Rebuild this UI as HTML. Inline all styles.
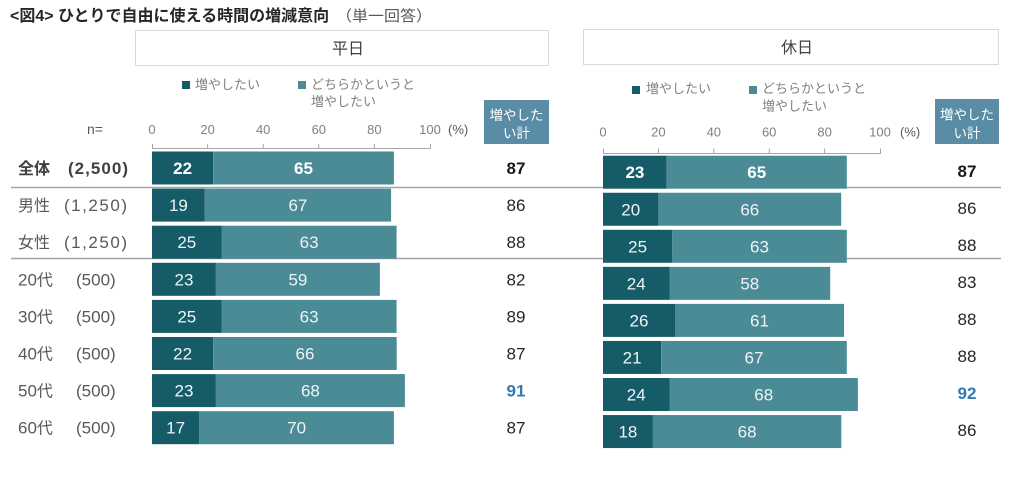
<!DOCTYPE html>
<html><head><meta charset="utf-8">
<style>
html,body{margin:0;padding:0;background:#fff;}
svg{display:block;font-family:"Liberation Sans","Noto Sans CJK JP",sans-serif;}
</style></head>
<body>
<svg width="1024" height="486" viewBox="0 0 1024 486" xmlns="http://www.w3.org/2000/svg">
<rect width="1024" height="486" fill="#fff"/>
<!-- Title -->
<text x="10" y="21" font-size="16" font-weight="bold" fill="#262626">&lt;図4&gt; ひとりで自由に使える時間の増減意向</text>
<text x="336" y="21" font-size="15" fill="#595959" textLength="96" lengthAdjust="spacingAndGlyphs">（単一回答）</text>

<!-- Panel boxes -->
<rect x="135.5" y="30.5" width="413" height="35" fill="#fff" stroke="#d9d9d9" stroke-width="1"/>
<text x="348" y="54" font-size="16" fill="#404040" text-anchor="middle">平日</text>
<rect x="583.5" y="29.5" width="415" height="35" fill="#fff" stroke="#d9d9d9" stroke-width="1"/>
<text x="797" y="53" font-size="16" fill="#404040" text-anchor="middle">休日</text>

<!-- Legends -->
<rect x="182" y="81" width="8" height="8" fill="#165c68"/>
<text x="195" y="89" font-size="13" fill="#808080">増やしたい</text>
<rect x="298" y="81" width="8" height="8" fill="#4a8b96"/>
<text x="311" y="89" font-size="13" fill="#808080">どちらかというと</text>
<text x="311" y="106" font-size="13" fill="#808080">増やしたい</text>

<rect x="632" y="86" width="8" height="8" fill="#165c68"/>
<text x="646" y="93" font-size="13" fill="#808080">増やしたい</text>
<rect x="749" y="86" width="8" height="8" fill="#4a8b96"/>
<text x="762" y="93" font-size="13" fill="#808080">どちらかというと</text>
<text x="762" y="110.5" font-size="13" fill="#808080">増やしたい</text>

<!-- Header boxes -->
<rect x="484" y="100" width="65" height="44" fill="#5a8da5"/>
<text x="516.5" y="120" font-size="13.5" fill="#fff" text-anchor="middle">増やした</text>
<text x="516.5" y="138" font-size="13.5" fill="#fff" text-anchor="middle">い計</text>
<rect x="935" y="99" width="64" height="45" fill="#5a8da5"/>
<text x="967" y="119.5" font-size="13.5" fill="#fff" text-anchor="middle">増やした</text>
<text x="967" y="138" font-size="13.5" fill="#fff" text-anchor="middle">い計</text>

<!-- Axis labels -->
<text x="87" y="134" font-size="14" fill="#595959">n=</text>
<g font-size="13" fill="#808080" text-anchor="middle">
<text x="152" y="134">0</text><text x="207.6" y="134">20</text><text x="263.2" y="134">40</text><text x="318.8" y="134">60</text><text x="374.4" y="134">80</text><text x="430" y="134">100</text>
<text x="603" y="136.5">0</text><text x="658.4" y="136.5">20</text><text x="713.8" y="136.5">40</text><text x="769.2" y="136.5">60</text><text x="824.6" y="136.5">80</text><text x="880" y="136.5">100</text>
</g>
<text x="448" y="134" font-size="13" fill="#595959">(%)</text>
<text x="900" y="136.5" font-size="13" fill="#595959">(%)</text>

<!-- Axis lines -->
<g stroke="#a6a6a6" stroke-width="1" fill="none">
<path d="M152.5 144V148.5H430.5V144 M207.6 144V148.5 M263.2 144V148.5 M318.8 144V148.5 M374.4 144V148.5"/>
<path d="M603.5 148.5V153.5H880.5V148.5 M658.4 148.5V153.5 M713.8 148.5V153.5 M769.2 148.5V153.5 M824.6 148.5V153.5"/>
</g>

<!-- Separator lines -->
<g stroke="#a6a6a6" stroke-width="1.5">
<line x1="11" y1="187.5" x2="1001" y2="187.5"/>
<line x1="11" y1="258.5" x2="1001" y2="258.5"/>
</g>

<!-- Row labels -->
<g font-size="17" fill="#595959">
<text x="18" y="174" font-size="16" font-weight="bold" fill="#404040">全体</text>
<text x="68" y="174" font-weight="bold" fill="#404040" textLength="60" lengthAdjust="spacing">(2,500)</text>
<text x="18" y="211" font-size="16">男性</text>
<text x="64" y="211" textLength="63" lengthAdjust="spacing">(1,250)</text>
<text x="18" y="248" font-size="16">女性</text>
<text x="64" y="248" textLength="63" lengthAdjust="spacing">(1,250)</text>
<text x="18" y="285.3">20<tspan font-size="16">代</tspan></text><text x="76" y="285.3">(500)</text>
<text x="18" y="322.4">30<tspan font-size="16">代</tspan></text><text x="76" y="322.4">(500)</text>
<text x="18" y="359.5">40<tspan font-size="16">代</tspan></text><text x="76" y="359.5">(500)</text>
<text x="18" y="396.6">50<tspan font-size="16">代</tspan></text><text x="76" y="396.6">(500)</text>
<text x="18" y="433.7">60<tspan font-size="16">代</tspan></text><text x="76" y="433.7">(500)</text>
</g>

<!-- Left bars -->
<g>
<rect x="152" y="151.5" width="61.2" height="33" fill="#165c68"/><rect x="213.2" y="151.5" width="180.7" height="33" fill="#4a8b96"/>
<rect x="152" y="188.6" width="52.8" height="33" fill="#165c68"/><rect x="204.8" y="188.6" width="186.3" height="33" fill="#4a8b96"/>
<rect x="152" y="225.7" width="69.5" height="33" fill="#165c68"/><rect x="221.5" y="225.7" width="175.1" height="33" fill="#4a8b96"/>
<rect x="152" y="262.8" width="63.9" height="33" fill="#165c68"/><rect x="215.9" y="262.8" width="164.0" height="33" fill="#4a8b96"/>
<rect x="152" y="299.9" width="69.5" height="33" fill="#165c68"/><rect x="221.5" y="299.9" width="175.1" height="33" fill="#4a8b96"/>
<rect x="152" y="337" width="61.2" height="33" fill="#165c68"/><rect x="213.2" y="337" width="183.5" height="33" fill="#4a8b96"/>
<rect x="152" y="374.1" width="63.9" height="33" fill="#165c68"/><rect x="215.9" y="374.1" width="189.0" height="33" fill="#4a8b96"/>
<rect x="152" y="411.2" width="47.3" height="33" fill="#165c68"/><rect x="199.3" y="411.2" width="194.6" height="33" fill="#4a8b96"/>
</g>
<g font-size="17" fill="#eef4f5" text-anchor="middle">
<text x="182.6" y="174" font-weight="bold" fill="#fff">22</text><text x="303.5" y="174" font-weight="bold" fill="#fff">65</text>
<text x="178.4" y="211.1">19</text><text x="297.9" y="211.1">67</text>
<text x="186.8" y="248.2">25</text><text x="309.1" y="248.2">63</text>
<text x="184.0" y="285.3">23</text><text x="297.9" y="285.3">59</text>
<text x="186.8" y="322.4">25</text><text x="309.1" y="322.4">63</text>
<text x="182.6" y="359.5">22</text><text x="305.0" y="359.5">66</text>
<text x="184.0" y="396.6">23</text><text x="310.4" y="396.6">68</text>
<text x="175.6" y="433.7">17</text><text x="296.6" y="433.7">70</text>
</g>
<g font-size="17" fill="#262626" text-anchor="middle">
<text x="516" y="174" font-weight="bold" fill="#1a1a1a">87</text>
<text x="516" y="211.1">86</text>
<text x="516" y="248.2">88</text>
<text x="516" y="285.3">82</text>
<text x="516" y="322.4">89</text>
<text x="516" y="359.5">87</text>
<text x="516" y="396.6" font-weight="bold" fill="#3478b0">91</text>
<text x="516" y="433.7">87</text>
</g>

<!-- Right bars -->
<g>
<rect x="603" y="155.7" width="63.7" height="33" fill="#165c68"/><rect x="666.7" y="155.7" width="180.1" height="33" fill="#4a8b96"/>
<rect x="603" y="192.75" width="55.4" height="33" fill="#165c68"/><rect x="658.4" y="192.75" width="182.8" height="33" fill="#4a8b96"/>
<rect x="603" y="229.8" width="69.3" height="33" fill="#165c68"/><rect x="672.3" y="229.8" width="174.5" height="33" fill="#4a8b96"/>
<rect x="603" y="266.85" width="66.5" height="33" fill="#165c68"/><rect x="669.5" y="266.85" width="160.7" height="33" fill="#4a8b96"/>
<rect x="603" y="303.9" width="72.0" height="33" fill="#165c68"/><rect x="675" y="303.9" width="169.0" height="33" fill="#4a8b96"/>
<rect x="603" y="340.95" width="58.2" height="33" fill="#165c68"/><rect x="661.2" y="340.95" width="185.6" height="33" fill="#4a8b96"/>
<rect x="603" y="378" width="66.5" height="33" fill="#165c68"/><rect x="669.5" y="378" width="188.4" height="33" fill="#4a8b96"/>
<rect x="603" y="415.05" width="49.9" height="33" fill="#165c68"/><rect x="652.9" y="415.05" width="188.4" height="33" fill="#4a8b96"/>
</g>
<g font-size="17" fill="#eef4f5" text-anchor="middle">
<text x="634.9" y="178.2" font-weight="bold" fill="#fff">23</text><text x="756.7" y="178.2" font-weight="bold" fill="#fff">65</text>
<text x="630.7" y="215.25">20</text><text x="749.8" y="215.25">66</text>
<text x="637.6" y="252.3">25</text><text x="759.5" y="252.3">63</text>
<text x="636.2" y="289.35">24</text><text x="749.8" y="289.35">58</text>
<text x="639" y="326.4">26</text><text x="759.5" y="326.4">61</text>
<text x="632.1" y="363.45">21</text><text x="754.0" y="363.45">67</text>
<text x="636.2" y="400.5">24</text><text x="763.7" y="400.5">68</text>
<text x="627.9" y="437.55">18</text><text x="747.1" y="437.55">68</text>
</g>
<g font-size="17" fill="#262626" text-anchor="middle">
<text x="967" y="177" font-weight="bold" fill="#1a1a1a">87</text>
<text x="967" y="214">86</text>
<text x="967" y="251">88</text>
<text x="967" y="288">83</text>
<text x="967" y="325">88</text>
<text x="967" y="362">88</text>
<text x="967" y="399" font-weight="bold" fill="#3478b0">92</text>
<text x="967" y="436">86</text>
</g>
</svg>
</body></html>
